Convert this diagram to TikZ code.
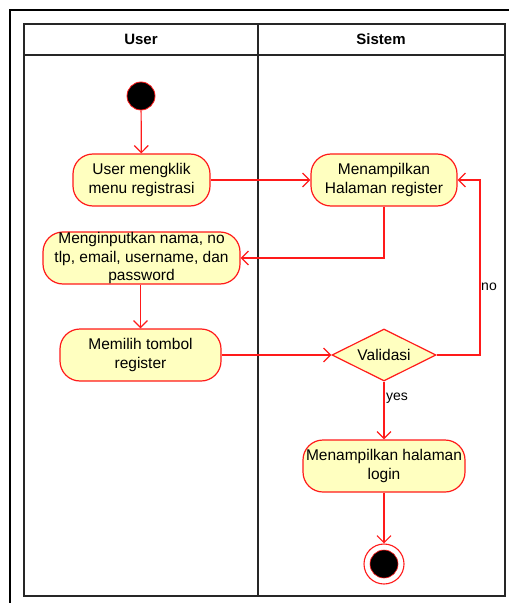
\documentclass[tikz,border=0pt]{standalone}
\usepackage{fontspec}
\setmainfont{Liberation Sans}
\usetikzlibrary{arrows.meta,shapes.geometric}
\definecolor{actfill}{HTML}{FFFFC0}
\definecolor{actline}{HTML}{FF1A1A}
\tikzset{
  actfont/.style={font=\fontsize{15.5bp}{18.5bp}\selectfont},
  activity/.style={draw=actline, fill=actfill, line width=1.2bp, rounded corners=20bp,
    minimum height=52bp, align=center, actfont, inner sep=1bp},
  decision/.style={draw=actline, fill=actfill, line width=1.2bp, diamond, aspect=2,
    minimum width=104bp, minimum height=52bp, inner sep=0bp, font=\fontsize{15.5bp}{18bp}\selectfont},
  flow/.style={draw=actline, line width=1.2bp, -{Straight Barb[length=7bp,width=14bp]}},
  lane/.style={draw=black!85, line width=1.1bp},
  guard/.style={font=\fontsize{14bp}{16bp}\selectfont, text=black},
  header/.style={font=\bfseries\fontsize{15bp}{17bp}\selectfont},
}
\begin{document}
\begin{tikzpicture}[x=1bp,y=-1bp]
\useasboundingbox (0,0) rectangle (509,603);
% outer frame
\draw[line width=2.4bp, black] (10,603) -- (10,10) -- (509,10);
% swimlane table
\draw[lane] (24,24) rectangle (505,596);
\draw[lane] (24,55) -- (505,55);
\draw[lane] (258,24) -- (258,596);
\node[header] (hUser) at (141,39.5) {User};
\node[header] (hSys) at (381,39.5) {Sistem};

% start
\node[circle, fill=black, draw=actline, line width=0.8bp, minimum size=28bp, inner sep=0] (start) at (141,96) {};
% activities
\node[activity, minimum width=137bp] (klik) at (141.5,180) {User mengklik\\menu registrasi};
\node[activity, minimum width=146bp] (tampil) at (384,180) {Menampilkan\\Halaman register};
% three text lines run past the box edges, so the text is set on top of the box
\node[activity, minimum width=197bp] (input) at (141.5,258) {};
\node[actfont, align=center, inner sep=0bp] (inputtext) at (input.center) {Menginputkan nama, no\\tlp, email, username, dan\\password};
\node[activity, minimum width=161bp] (pilih) at (140.5,355) {Memilih tombol\\register};
\node[decision] (valid) at (384,355) {Validasi};
\node[activity, minimum width=162bp, inner sep=0bp] (login) at (384,466) {Menampilkan halaman\\login};
% end
\node[circle, draw=actline, fill=white, line width=1.1bp, minimum size=40bp, inner sep=0] (stop) at (384,564) {};
\node[circle, fill=black, draw=actline, line width=0.6bp, minimum size=28bp, inner sep=0] (stopin) at (384,564) {};

% flows
\draw[flow] (start) -- (klik);
\draw[flow] (klik) -- (tampil);
\draw[flow] (tampil.south) |- (input.east);
\draw[flow] (input.south -| pilih.north) -- (pilih.north);
\draw[flow] (pilih) -- (valid);
\coordinate (noturn) at (480,355);
\draw[flow] (valid.east) -- (noturn) |- (tampil.east);
\node[guard] (no) at (489,287) {no};
\draw[flow] (valid.south) -- (login.north);
\node[guard] (yes) at (397,398) {yes};
\draw[flow] (login) -- (stop);
\end{tikzpicture}
\end{document}
